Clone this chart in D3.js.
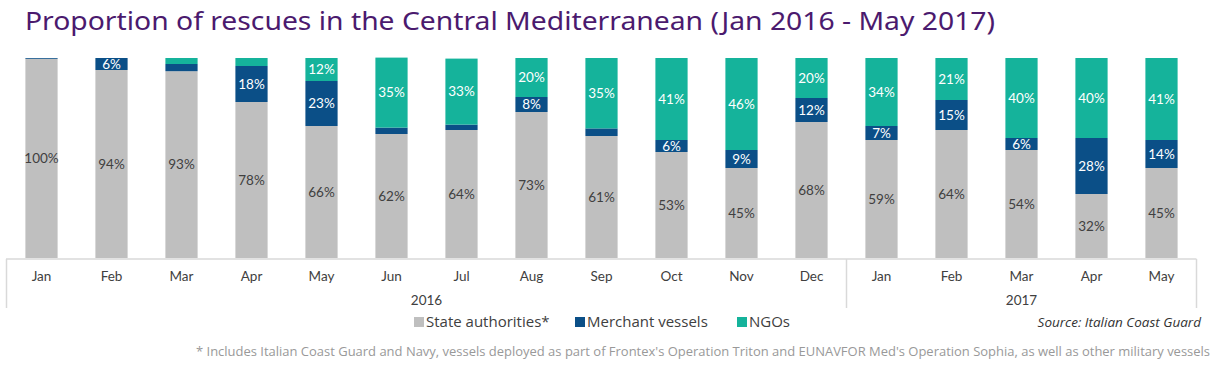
<!DOCTYPE html>
<html>
<head>
<meta charset="utf-8">
<script src="https://cdn.jsdelivr.net/npm/d3@7"></script>
<style>
  body { margin: 0; background: #fff; }
  svg { display: block; font-family: Lato, "Open Sans", sans-serif; }
</style>
</head>
<body>
<svg id="chart" width="1213" height="374"></svg>
<script>
  // data
  var months = ["Jan","Feb","Mar","Apr","May","Jun","Jul","Aug","Sep","Oct","Nov","Dec","Jan","Feb","Mar","Apr","May"];
  var years = ["2016","2016","2016","2016","2016","2016","2016","2016","2016","2016","2016","2016","2017","2017","2017","2017","2017"];
  var state = [99.6, 94, 93.4, 78, 66, 62, 64, 73, 61, 53, 45, 68, 59, 64, 54, 32, 45];
  var merchant = [0.4, 6, 3.6, 18, 22.5, 3.2, 2.7, 7.5, 3.8, 6, 9, 12, 7, 15, 6, 28, 14];
  var ngos = [0, 0, 3, 4, 11.5, 35, 33, 19.5, 35.2, 41, 46, 20, 34, 21, 40, 40, 41];
  var seriesNames = ["State authorities*", "Merchant vessels", "NGOs"];

  var colors = ["#bfbfbf", "#0b4f87", "#15b39b"];
  var labelColors = ["#404040", "#fff", "#fff"];

  var svg = d3.select("#chart");

  var rows = months.map(function(m, i) {
    return {key: i, month: m, year: years[i], s0: state[i], s1: merchant[i], s2: ngos[i]};
  });

  var x = d3.scaleBand()
    .domain(rows.map(function(d) { return d.key; }))
    .range([6.5, 1196.5])
    .paddingInner(0.54)
    .paddingOuter(0.27);

  var y = d3.scaleLinear().domain([0, 100]).range([258, 58]);

  var stack = d3.stack().keys(["s0", "s1", "s2"]);
  var layers = stack(rows);

  // title
  svg.append("text")
    .attr("x", 25).attr("y", 30)
    .attr("fill", "#4b1a6e")
    .attr("textLength", 970)
    .attr("lengthAdjust", "spacingAndGlyphs")
    .style("font-family", "'Noto Sans', sans-serif")
    .style("font-size", "25px")
    .text("Proportion of rescues in the Central Mediterranean (Jan 2016 - May 2017)");

  // bars
  layers.forEach(function(layer, li) {
    var g = svg.append("g");
    g.selectAll("rect")
      .data(layer)
      .join("rect")
        .attr("x", function(d) { return x(d.data.key); })
        .attr("width", x.bandwidth())
        .attr("y", function(d) { return y(d[1]); })
        .attr("height", function(d) { return y(d[0]) - y(d[1]); })
        .attr("fill", colors[li]);

    g.selectAll("text")
      .data(layer.filter(function(d) { return d[1] - d[0] >= 5; }))
      .join("text")
        .attr("x", function(d) { return x(d.data.key) + x.bandwidth() / 2; })
        .attr("y", function(d) { return (y(d[0]) + y(d[1])) / 2; })
        .attr("dy", "0.35em")
        .attr("text-anchor", "middle")
        .attr("fill", labelColors[li])
        .style("font-size", "13.5px")
        .text(function(d) { return Math.round(d[1] - d[0]) + "%"; });
  });

  // category axis, drawn as a grouped table-like axis
  var axis = svg.append("g").attr("stroke", "#d9d9d9").attr("stroke-width", 1.5);
  axis.append("line").attr("x1", x.range()[0] - 0.5).attr("x2", x.range()[1]).attr("y1", 259).attr("y2", 259);

  var yearGroups = d3.groups(rows, function(d) { return d.year; });
  var edges = [x(rows[0].key) - x.step() * x.paddingOuter()];
  yearGroups.forEach(function(gr) {
    var last = gr[1][gr[1].length - 1];
    edges.push(x(last.key) + x.bandwidth() + x.step() * x.paddingInner() / 2);
  });
  edges[edges.length - 1] = x.range()[1];
  edges.forEach(function(e) {
    axis.append("line").attr("x1", e).attr("x2", e).attr("y1", 259).attr("y2", 308);
  });

  svg.append("g").selectAll("text")
    .data(rows)
    .join("text")
      .attr("x", function(d) { return x(d.key) + x.bandwidth() / 2; })
      .attr("y", 281)
      .attr("text-anchor", "middle")
      .attr("fill", "#404040")
      .style("font-size", "13.5px")
      .text(function(d) { return d.month; });

  svg.append("g").selectAll("text")
    .data(yearGroups)
    .join("text")
      .attr("x", function(gr, i) { return (edges[i] + edges[i + 1]) / 2; })
      .attr("y", 305)
      .attr("text-anchor", "middle")
      .attr("fill", "#404040")
      .style("font-size", "13.5px")
      .text(function(gr) { return gr[0]; });

  // legend
  var legendX = [414, 575, 737];
  var legend = svg.append("g").selectAll("g")
    .data(seriesNames)
    .join("g")
      .attr("transform", function(d, i) { return "translate(" + legendX[i] + ",322)"; });
  legend.append("rect").attr("x", 0).attr("y", -5).attr("width", 10).attr("height", 10)
    .attr("fill", function(d, i) { return colors[i]; });
  legend.append("text").attr("x", 12).attr("dy", "0.35em")
    .attr("fill", "#404040")
    .style("font-family", "'Open Sans', sans-serif")
    .style("font-size", "15px")
    .text(function(d) { return d; });

  svg.append("text")
    .attr("x", 1201).attr("y", 327)
    .attr("text-anchor", "end")
    .attr("fill", "#333")
    .style("font-family", "'Open Sans', sans-serif")
    .style("font-style", "italic")
    .style("font-size", "13.5px")
    .text("Source: Italian Coast Guard");

  svg.append("text")
    .attr("x", 1210).attr("y", 356)
    .attr("text-anchor", "end")
    .attr("fill", "#999")
    .attr("textLength", 1014)
    .attr("lengthAdjust", "spacingAndGlyphs")
    .style("font-family", "'Open Sans', sans-serif")
    .style("font-size", "12.5px")
    .text("* Includes Italian Coast Guard and Navy, vessels deployed as part of Frontex's Operation Triton and EUNAVFOR Med's Operation Sophia, as well as other military vessels");
</script>
</body>
</html>
